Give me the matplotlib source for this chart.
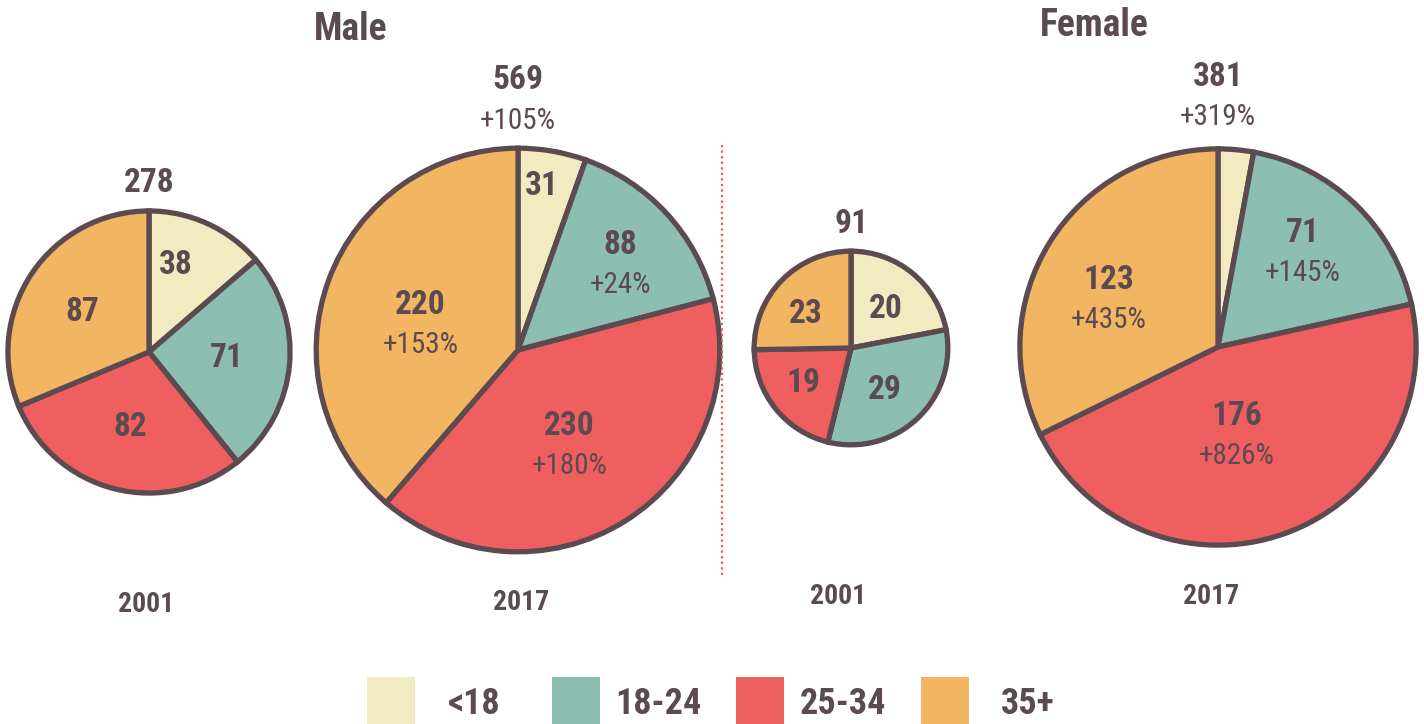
import numpy as np
import matplotlib
matplotlib.use("Agg")
import matplotlib.pyplot as plt
from matplotlib.patches import Rectangle

plt.rcParams['font.family'] = ['Roboto Condensed', 'Open Sans Condensed',
                               'Liberation Sans Narrow', 'DejaVu Sans']
plt.rcParams['font.stretch'] = 'condensed'

# age groups, clockwise from 12 o'clock
groups = ['<18', '18-24', '25-34', '35+']
colors = ['#F2EAC1', '#8CBEB1', '#EF5F5F', '#F2B562']

male_2001 = [38, 71, 82, 87]
male_2017 = [31, 88, 230, 220]
female_2001 = [20, 29, 19, 23]
female_2017 = [11, 71, 176, 123]

years = ['2001', '2017']

INK = '#5C4A51'
W, H = 1424, 724
NUM_FS = 24
PCT_FS = 21

fig = plt.figure(figsize=(W / 100, H / 100), dpi=100)
ax = fig.add_axes([0, 0, 1, 1])


def py(y):
    # page coords run top-down
    return H - y


def pct(new, old):
    return int(round((new / old - 1) * 100))


def draw_pie(vals, cx, cy, r, spots, prev=None, gaps=(28,)):
    # spots: (radial fraction, angle nudge in degrees) per wedge label
    ax.pie(vals, colors=colors, startangle=90, counterclock=False,
           center=(cx, py(cy)), radius=r, frame=True,
           wedgeprops=dict(edgecolor=INK, linewidth=3.8, joinstyle='miter'))
    total = sum(vals)
    start = 0.0
    for i, v in enumerate(vals):
        mid_deg = 90 - (start + v / 2) / total * 360
        start += v
        if v / total < 0.04:
            continue
        frac, nudge = spots[i]
        mid = np.deg2rad(mid_deg + nudge)
        x = cx + frac * r * np.cos(mid)
        y = cy - frac * r * np.sin(mid)
        if prev is not None and v > prev[i]:
            ax.text(x, py(y - 20), str(v), ha='center', va='center',
                    fontsize=NUM_FS, fontweight='bold', color=INK)
            ax.text(x, py(y + 20), f'+{pct(v, prev[i])}%', ha='center',
                    va='center', fontsize=PCT_FS, color=INK)
        else:
            ax.text(x, py(y), str(v), ha='center', va='center',
                    fontsize=NUM_FS, fontweight='bold', color=INK)
    # total above the pie
    top = cy - r
    ax.text(cx, py(top - gaps[0]), str(total), ha='center', va='center',
            fontsize=NUM_FS, fontweight='bold', color=INK)
    if prev is not None:
        ax.text(cx, py(top - gaps[1]), f'+{pct(total, sum(prev))}%',
                ha='center', va='center', fontsize=PCT_FS, color=INK)


# radius scaled by sqrt of total within each gender
k_male = 8.46
k_female = 10.15

draw_pie(male_2001, 149, 352, k_male * np.sqrt(sum(male_2001)),
         [(0.645, 7.4), (0.55, 0.8), (0.55, 0), (0.55, 3)], gaps=(28,))
draw_pie(male_2017, 518, 350, k_male * np.sqrt(sum(male_2017)),
         [(0.82, 1.4), (0.66, -2.7), (0.54, -3.8), (0.5, 6)],
         prev=male_2001, gaps=(68, 27))
draw_pie(female_2001, 851, 348, k_female * np.sqrt(sum(female_2001)),
         [(0.54, -1.5), (0.56, -4.5), (0.61, -2.5), (0.58, 7.5)], gaps=(27,))
draw_pie(female_2017, 1218, 347, k_female * np.sqrt(sum(female_2017)),
         [(0.8, 0), (0.64, 1.9), (0.46, -7.4), (0.6, 8.8)],
         prev=female_2001, gaps=(72, 32))

# gender headings
ax.text(351, py(30), 'Male', ha='center', va='center', fontsize=27,
        fontweight='bold', color=INK)
ax.text(1094, py(25), 'Female', ha='center', va='center', fontsize=27,
        fontweight='bold', color=INK)

# year captions
for x, y, yr in [(146, 604, years[0]), (521, 602, years[1]),
                 (838, 597, years[0]), (1211, 597, years[1])]:
    ax.text(x, py(y), yr, ha='center', va='center', fontsize=20,
            fontweight='bold', color=INK)

# divider between the two genders
ax.plot([722, 722], [py(145), py(578)], color='#E9575C', lw=1.6,
        linestyle=(0, (1, 1.5)))

# legend row
for i, (g, c) in enumerate(zip(groups, colors)):
    x0 = 367 + i * 184.5
    ax.add_patch(Rectangle((x0, py(724)), 48, 47, facecolor=c, edgecolor='none'))
    ax.text(x0 + 107, py(704), g, ha='center', va='center', fontsize=26,
            fontweight='bold', color=INK)

ax.set_xlim(0, W)
ax.set_ylim(0, H)
ax.set_aspect('equal')
ax.axis('off')

fig.savefig('out.png', dpi=100, facecolor='white')
